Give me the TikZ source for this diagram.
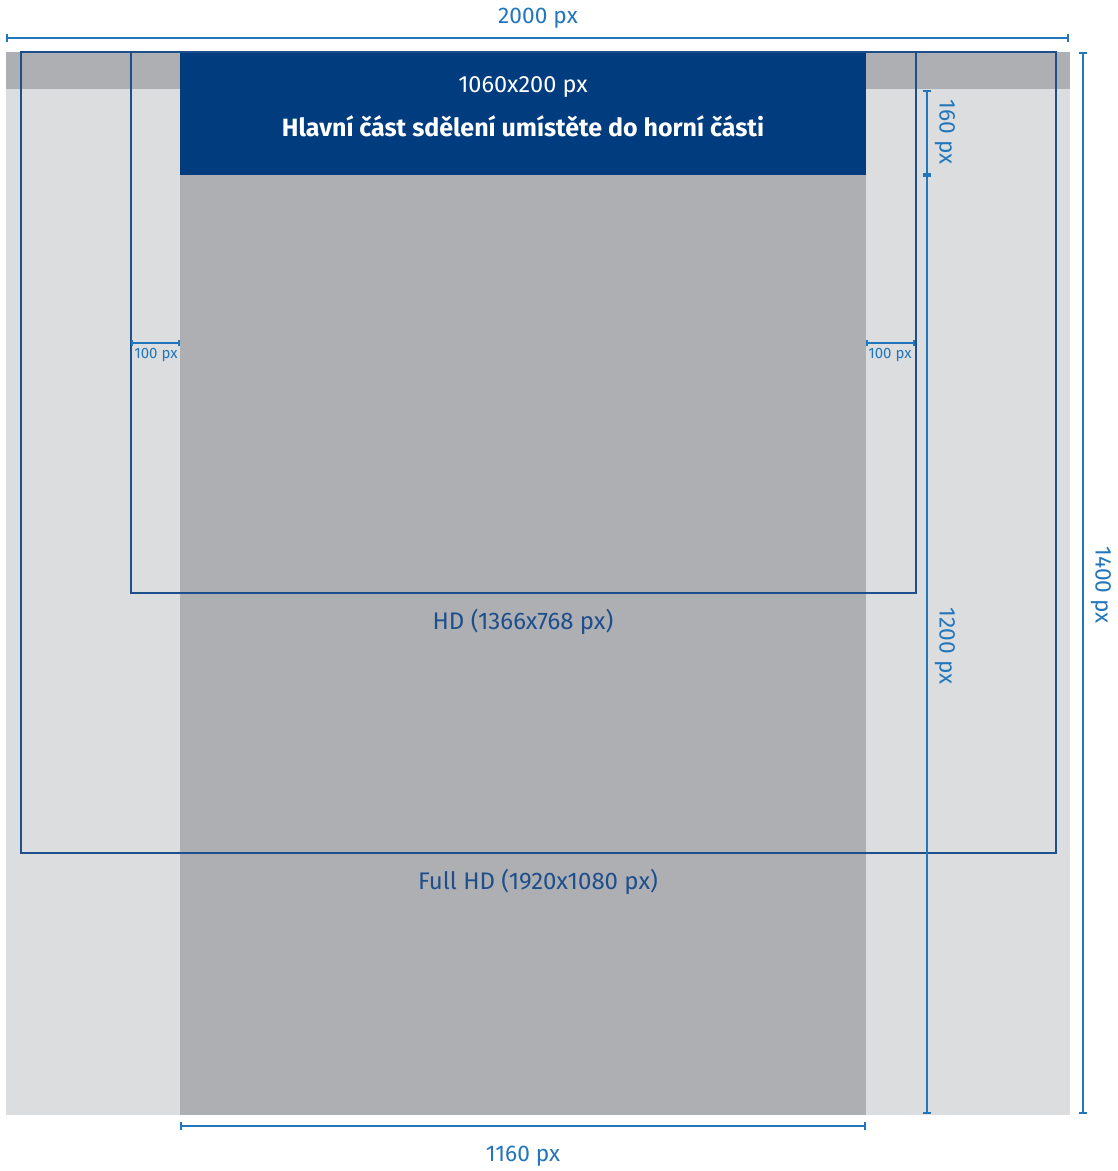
\documentclass[tikz,border=0pt]{standalone}
\usepackage{fontspec}
\setmainfont{Fira Sans}
\usetikzlibrary{arrows.meta}
\definecolor{lightg}{HTML}{DCDDDF}
\definecolor{darkg}{HTML}{ADAFB2}
\definecolor{navy}{HTML}{003C7E}
\definecolor{frame}{HTML}{1F4E8C}
\definecolor{dimblue}{HTML}{2276BB}
\begin{document}
\begin{tikzpicture}[x=1pt,y=-1pt,
  dimline/.style={draw=dimblue,line width=2.2pt,{Bar[width=8pt,line width=2.2pt]}-{Bar[width=8pt,line width=2.2pt]}},
  smalldim/.style={draw=dimblue,line width=1.8pt,{Bar[width=6pt,line width=1.8pt]}-{Bar[width=6pt,line width=1.8pt]}},
  frameline/.style={draw=frame,line width=2pt},
  dimlabel/.style={text=dimblue,font=\fontsize{22.7}{26}\selectfont,inner sep=0pt},
  smalllabel/.style={text=dimblue,font=\fontsize{15}{17}\selectfont,inner sep=0pt},
  framelabel/.style={text=frame,font=\fontsize{24}{28}\selectfont,inner sep=0pt}]
\useasboundingbox (0,0) rectangle (1118,1171);
% backgrounds
\fill[lightg] (6,52) rectangle (1070,1115);
\fill[darkg] (6,52) rectangle (1070,89);
\fill[darkg] (180,52) rectangle (866,1115);
\node[fill=navy,minimum width=686pt,minimum height=123pt,inner sep=0pt,anchor=north west] (banner) at (180,52) {};
\node[text=white,font=\fontsize{23.5}{27}\selectfont,inner sep=0pt] (bsize) at (523,87.5) {1060x200 px};
\node[text=white,font=\fontsize{25}{29}\selectfont\bfseries,inner sep=0pt] (btext) at (523,126) {Hlavní část sdělení umístěte do horní části};
% frames
\draw[frameline] (21,52) rectangle (1056,853);
\draw[frameline] (131,52) rectangle (916,593);
\node[framelabel] (hd) at (523,622) {HD (1366x768 px)};
\node[framelabel] (fhd) at (538,882) {Full HD (1920x1080 px)};
% dimension coordinates
\coordinate (t1) at (6,38); \coordinate (t2) at (1069,38);
\coordinate (r1) at (1083,52); \coordinate (r2) at (1083,1114);
\coordinate (a1) at (927,90); \coordinate (a2) at (927,175);
\coordinate (b2) at (927,1114);
\coordinate (u1) at (180,1126); \coordinate (u2) at (866,1126);
\coordinate (l1) at (131,343); \coordinate (l2) at (180,343);
\coordinate (m1) at (866,343); \coordinate (m2) at (915,343);
\draw[dimline] (t1) -- (t2);
\draw[dimline] (r1) -- (r2);
\draw[dimline] (a1) -- (a2);
\draw[dimline] (a2) -- (b2);
\draw[dimline] (u1) -- (u2);
\draw[smalldim] (l1) -- (l2);
\draw[smalldim] (m1) -- (m2);
\node[dimlabel] (w2000) at (538,18.5) {2000 px};
\node[dimlabel] (w1160) at (523,1156) {1160 px};
\node[dimlabel,rotate=-90] (h1400) at (1101,585) {1400 px};
\node[dimlabel,rotate=-90] (h160) at (945,132) {160 px};
\node[dimlabel,rotate=-90] (h1200) at (945,646) {1200 px};
\node[smalllabel] (p1) at (156,355) {100 px};
\node[smalllabel] (p2) at (890,355) {100 px};
\end{tikzpicture}
\end{document}
